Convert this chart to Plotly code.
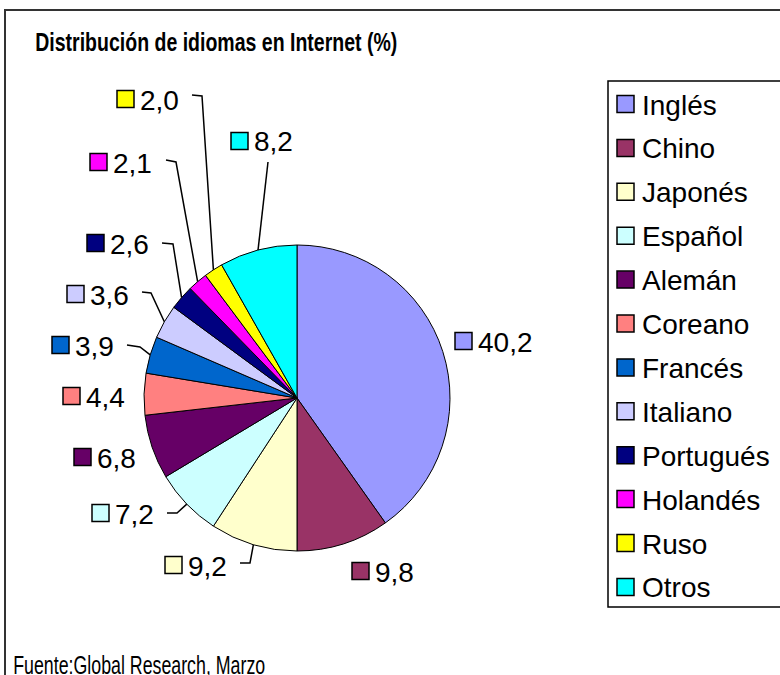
import math
import plotly.graph_objects as go

# ---- data ----
languages = ["Inglés", "Chino", "Japonés", "Español", "Alemán", "Coreano",
             "Francés", "Italiano", "Portugués", "Holandés", "Ruso", "Otros"]
shares = [40.2, 9.8, 9.2, 7.2, 6.8, 4.4, 3.9, 3.6, 2.6, 2.1, 2.0, 8.2]
colors = ["#9999FF", "#993366", "#FFFFCC", "#CCFFFF", "#660066", "#FF8080",
          "#0066CC", "#CCCCFF", "#000080", "#FF00FF", "#FFFF00", "#00FFFF"]
title_text = "Distribución de idiomas en Internet (%)"
source_text = "Fuente:Global Research, Marzo"

# ---- layout (pixels) ----
W, H = 780, 675
CX, CY, R = 297, 398, 153
# label square left x / center y
lab_sq_x = [455, 352, 165, 92, 74, 63, 52, 67, 87, 90, 117, 231]
lab_y = [341, 571, 565, 513, 457, 396, 345, 294, 243, 162, 99, 141]
# leader line start (x, y) and elbow (x, y); None = no leader
leaders = [None, None,
           ((240, 563), (250, 563)),
           ((167, 513), (177, 513)),
           None, None,
           ((127, 345), (140, 347)),
           ((142, 292), (151, 293)),
           ((162, 243), (173, 244)),
           ((166, 160), (176, 162)),
           ((192, 95), (202, 96)),
           ((268, 162), (268, 162))]
SQ = 17
FONT = "Liberation Sans, Arial, sans-serif"
LABEL_FONT = dict(family=FONT, size=28, color="#000000")


def X(x):
    return x / W


def Y(y):
    return 1 - y / H


fig = go.Figure()
fig.add_trace(go.Pie(
    labels=languages, values=shares, sort=False, direction="clockwise", rotation=0,
    marker=dict(colors=colors, line=dict(color="#000000", width=1)),
    textinfo="none", hoverinfo="label+value", showlegend=False,
    domain=dict(x=[X(CX - R), X(CX + R)], y=[Y(CY + R), Y(CY - R)]),
))

shapes = []
annotations = []

# outer frame
shapes.append(dict(type="rect", xref="paper", yref="paper",
                   x0=X(5), x1=X(W + 20), y0=Y(H + 20), y1=Y(10),
                   line=dict(color="#333333", width=2), fillcolor="rgba(0,0,0,0)"))

total = sum(shares)
cum = 0.0
for i, v in enumerate(shares):
    mid = (cum + v / 2) / total * 2 * math.pi
    cum += v
    ax = CX + R * math.sin(mid)
    ay = CY - R * math.cos(mid)
    sx = lab_sq_x[i]
    sy = lab_y[i]
    shapes.append(dict(type="rect", xref="paper", yref="paper",
                       x0=X(sx), x1=X(sx + SQ), y0=Y(sy + SQ / 2), y1=Y(sy - SQ / 2),
                       line=dict(color="#000000", width=1.5), fillcolor=colors[i]))
    annotations.append(dict(xref="paper", yref="paper", x=X(sx + SQ + 4), y=Y(sy + 1),
                            xanchor="left", yanchor="middle", showarrow=False,
                            text=f"{v:.1f}".replace(".", ","), font=LABEL_FONT))
    if leaders[i] is not None:
        (p0, p1) = leaders[i]
        path = f"M {X(p0[0])},{Y(p0[1])} L {X(p1[0])},{Y(p1[1])} L {X(ax)},{Y(ay)}"
        shapes.append(dict(type="path", xref="paper", yref="paper", path=path,
                           line=dict(color="#000000", width=1.5)))

# legend box
LG_TOP, LG_STEP = 104, 43.9
shapes.append(dict(type="rect", xref="paper", yref="paper",
                   x0=X(608), x1=X(W + 20), y0=Y(607), y1=Y(81),
                   line=dict(color="#000000", width=1.5), fillcolor="rgba(0,0,0,0)"))
for i, name in enumerate(languages):
    cy = LG_TOP + i * LG_STEP
    shapes.append(dict(type="rect", xref="paper", yref="paper",
                       x0=X(617), x1=X(634), y0=Y(cy + 8.5), y1=Y(cy - 8.5),
                       line=dict(color="#000000", width=1.5), fillcolor=colors[i]))
    annotations.append(dict(xref="paper", yref="paper", x=X(640), y=Y(cy + 1),
                            xanchor="left", yanchor="middle", showarrow=False,
                            text=name, font=dict(family=FONT, size=28, color="#000000")))

annotations.append(dict(xref="paper", yref="paper", x=X(216), y=Y(42),
                        xanchor="center", yanchor="middle", showarrow=False,
                        text=title_text,
                        font=dict(family=FONT, size=26, weight=700, color="#000000")))
annotations.append(dict(xref="paper", yref="paper", x=X(139), y=Y(665),
                        xanchor="center", yanchor="middle", showarrow=False,
                        text=source_text,
                        font=dict(family=FONT, size=25, color="#000000")))

fig.update_layout(width=W, height=H, margin=dict(l=0, r=0, t=0, b=0),
                  paper_bgcolor="#FFFFFF", plot_bgcolor="#FFFFFF",
                  shapes=shapes, annotations=annotations, showlegend=False)

post_js = """
document.body.style.margin = '0';
var fits = {};
fits[%r] = 362;
fits[%r] = 252;
document.querySelectorAll('.annotation-text').forEach(function (t) {
  var s = t.textContent;
  if (fits[s]) {
    t.setAttribute('textLength', String(fits[s]));
    t.setAttribute('lengthAdjust', 'spacingAndGlyphs');
  }
});
""" % (title_text, source_text)

fig.write_html("out.html", post_script=post_js, config={"displayModeBar": False})
